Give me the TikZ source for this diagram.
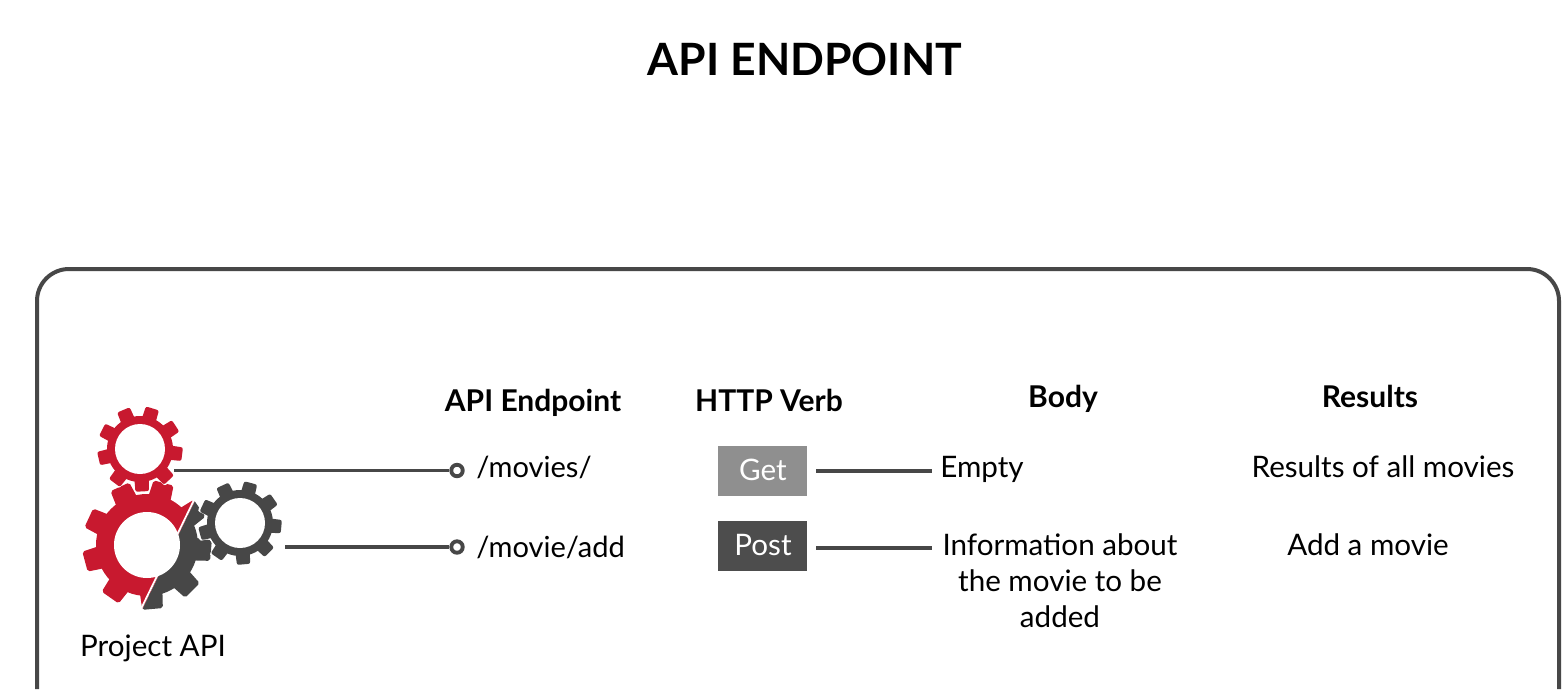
\documentclass[tikz,border=0pt]{standalone}
\usepackage{fontspec}
\setmainfont{Lato}
\usetikzlibrary{calc}
\definecolor{dk}{HTML}{474747}
\definecolor{gearred}{HTML}{C8192F}
\definecolor{getgray}{HTML}{8F8F8F}
\definecolor{postgray}{HTML}{4D4D4D}
\newcommand{\gearshape}[7]{% x,y,body r,outer r,teeth,phase,color
  \fill[#7] (#1,#2) circle[radius=#3];
  \foreach \i in {1,...,#5}{
    \pgfmathsetmacro{\aa}{#6+360*\i/#5}
    \pgfmathsetmacro{\wb}{120/#5}
    \pgfmathsetmacro{\wt}{82/#5}
    \fill[#7,rounded corners=1.5pt] ($(#1,#2)+(\aa-\wb:#3-2)$) -- ($(#1,#2)+(\aa-\wt:#4)$) -- ($(#1,#2)+(\aa+\wt:#4)$) -- ($(#1,#2)+(\aa+\wb:#3-2)$) -- cycle;
  }
}
\tikzset{
  x=0.75pt,y=-0.75pt,
  body/.style={font=\fontsize{22.2}{27}\selectfont,text=black,inner sep=0pt},
  pathtext/.style={font=\fontsize{21.8}{27}\selectfont,text=black,inner sep=0pt},
  head/.style={font=\fontsize{22.5}{27}\selectfont\bfseries,text=black,inner sep=0pt},
  wire/.style={draw=dk,line width=2.9pt},
  endring/.style={circle,draw=dk,line width=2.9pt,fill=white,minimum size=8.6pt,inner sep=0pt},
  verb/.style={minimum width=66.75pt,minimum height=37.5pt,inner sep=0pt},
  hole/.style={fill=white}
}
\begin{document}
\begin{tikzpicture}
\useasboundingbox (0,0) rectangle (1565,689);
\fill[white] (0,0) rectangle (1565,689);
\node[font=\fontsize{33.4}{40}\selectfont\bfseries,anchor=base,inner sep=0pt] (title) at (805,75) {API ENDPOINT};
\coordinate (fbl) at (37,689);
\coordinate (ftl) at (37,269);
\coordinate (ftr) at (1559,269);
\coordinate (fbr) at (1559,689);
\draw[draw=dk,line width=3pt,rounded corners=24pt] (fbl) -- (ftl) -- (ftr) -- (fbr);

% large split gear
\begin{scope}
  \clip (0,689) -- (0,380) -- (243,380) -- (193,505) -- (143,608) -- (143,689) -- cycle;
  \gearshape{147}{545}{51}{65}{9}{5}{gearred}
\end{scope}
\begin{scope}
  \clip (193,505) -- (143,608) -- (143,640) -- (260,640) -- (260,470) -- (210,470) -- cycle;
  \gearshape{147}{545}{51}{65}{9}{5}{dk}
\end{scope}
\draw[white,line width=1.3pt] (194.5,499) -- (140,611);
\fill[hole] (147,545) circle[radius=33];
% top gear, with its halo over the large gear
\gearshape{140}{449}{34.5}{44.5}{9}{7}{white}
\gearshape{140}{449}{33}{43}{9}{7}{gearred}
\fill[hole] (140,449) circle[radius=25];
% right gear, with its halo over the large gear
\gearshape{240}{523}{34.5}{44}{9}{5}{white}
\gearshape{240}{523}{33}{42}{9}{5}{dk}
\fill[hole] (240,523) circle[radius=25];

\node[body,anchor=base] (api) at (153,656) {Project API};

% column heads
\node[head,anchor=base] (h1) at (533,411) {API Endpoint};
\node[head,anchor=base] (h2) at (769,411) {HTTP Verb};
\node[head,anchor=base] (h3) at (1063,407) {Body};
\node[head,anchor=base] (h4) at (1370,407) {Results};

% endpoints
\coordinate (g1) at (174,470.5);
\coordinate (g2) at (285,547);
\node[endring] (r1) at (457,470.5) {};
\node[endring] (r2) at (457,547) {};
\draw[wire] (g1) -- (r1);
\draw[wire] (g2) -- (r2);
\node[pathtext,anchor=base west] (e1) at (476,477) {/movies/};
\node[pathtext,anchor=base west] (e2) at (476,557) {/movie/add};

% verbs
\node[verb,fill=getgray] (get) at (762.5,471) {};
\node[verb,fill=postgray] (post) at (762.5,546) {};
\node[body,text=white,anchor=base] (gett) at (763,480) {Get};
\node[body,text=white,anchor=base] (postt) at (763,555) {Post};

% body
\node[body,anchor=base west] (b1) at (940,477) {Empty};
\node[body,align=center,anchor=center] (b2) at (1060,581) {Information about\\the movie to be\\added};
\coordinate (v1) at (816,471);
\coordinate (v2) at (816,548);
\coordinate (w1) at (932,471);
\coordinate (w2) at (932,548);
\draw[wire] (v1) -- (w1);
\draw[wire] (v2) -- (w2);

% results
\node[body,anchor=base] (c1) at (1383,477) {Results of all movies};
\node[body,anchor=base] (c2) at (1368,555) {Add a movie};
\end{tikzpicture}
\end{document}
